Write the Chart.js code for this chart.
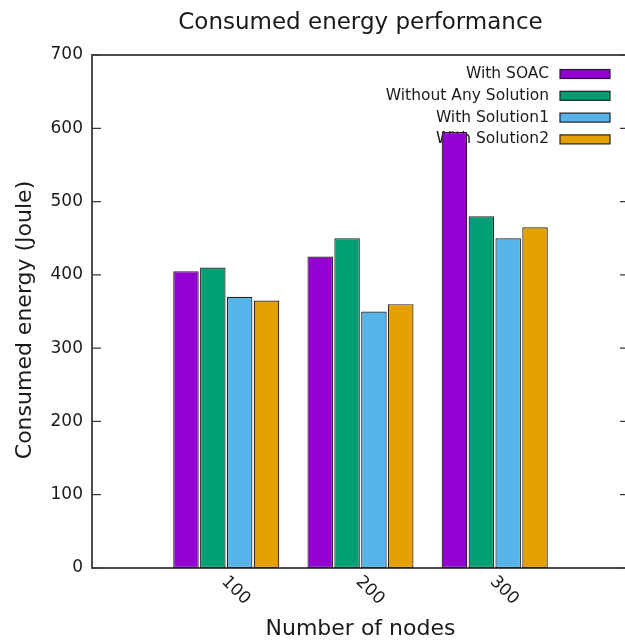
<!DOCTYPE html>
<html>
<head>
<meta charset="utf-8">
<script src="https://cdn.jsdelivr.net/npm/chart.js@4"></script>
<style>
  html, body { margin: 0; padding: 0; background: #fff; overflow: hidden; }
  #wrap { width: 640px; height: 643px; }
</style>
</head>
<body>
<div id="wrap"><canvas id="energyChart" width="640" height="643"></canvas></div>
<script>
// data
const nodeCounts = ['100', '200', '300'];
const withSoac = [405, 425, 595];
const withoutSolution = [410, 450, 480];
const withSolution1 = [370, 350, 450];
const withSolution2 = [365, 360, 465];
const seriesNames = ['With SOAC', 'Without Any Solution', 'With Solution1', 'With Solution2'];
const seriesColors = ['#9400D3', '#009E73', '#56B4E9', '#E69F00'];
const yTicks = [0, 100, 200, 300, 400, 500, 600, 700];

const FONT = '"DejaVu Sans", Verdana, sans-serif';
const INK = '#1a1a1a';

function toPoints(values) {
    return values.map((v, i) => ({ x: i, y: v }));
}

// gnuplot look: framed box, inward tics, key in the top right, rotated x labels
const gnuplotFrame = {
    id: 'gnuplotFrame',
    beforeDatasetsDraw(chart) {
        const { ctx, chartArea: a, scales: { y } } = chart;
        ctx.save();
        ctx.strokeStyle = '#3a3a3a';
        ctx.lineWidth = 1.8;
        ctx.strokeRect(a.left, a.top, a.right - a.left, a.bottom - a.top);
        ctx.lineWidth = 1.2;
        yTicks.forEach(v => {
            const py = y.getPixelForValue(v);
            ctx.beginPath();
            ctx.moveTo(a.left, py); ctx.lineTo(a.left + 9, py);
            ctx.moveTo(a.right - 9, py); ctx.lineTo(a.right, py);
            ctx.stroke();
        });

        // key
        ctx.font = '15.5px ' + FONT;
        ctx.textAlign = 'right';
        ctx.textBaseline = 'middle';
        chart.data.datasets.forEach((ds, i) => {
            const cy = a.top + 19 + i * 21.8;
            ctx.fillStyle = INK;
            ctx.fillText(ds.label, 549, cy);
            ctx.fillStyle = ds.backgroundColor;
            ctx.fillRect(560, cy - 4.5, 50, 9);
            ctx.strokeStyle = '#222';
            ctx.lineWidth = 1.2;
            ctx.strokeRect(560, cy - 4.5, 50, 9);
        });
        ctx.restore();
    },
    afterDraw(chart) {
        const { ctx, chartArea: a, scales: { x } } = chart;
        const midX = (a.left + a.right) / 2;
        ctx.save();
        ctx.fillStyle = INK;
        ctx.textAlign = 'center';
        ctx.textBaseline = 'middle';
        ctx.font = '23px ' + FONT;
        ctx.fillText('Consumed energy performance', midX, 23);

        // y title sits a little below the plot centre in the reference
        ctx.save();
        ctx.translate(25, 320);
        ctx.rotate(-Math.PI / 2);
        ctx.font = '22px ' + FONT;
        ctx.fillText('Consumed energy (Joule)', 0, 0);
        ctx.restore();

        ctx.font = '17px ' + FONT;
        ctx.textAlign = 'left';
        nodeCounts.forEach((label, i) => {
            const px = x.getPixelForValue(i);
            ctx.save();
            ctx.translate(px - 2, a.bottom + 11);
            ctx.rotate(Math.PI / 4);
            ctx.fillText(label, 0, 0);
            ctx.restore();
        });
        ctx.restore();
    }
};

const series = [withSoac, withoutSolution, withSolution1, withSolution2];

new Chart(document.getElementById('energyChart'), {
    type: 'bar',
    data: {
        datasets: series.map((values, i) => ({
            label: seriesNames[i],
            data: toPoints(values),
            backgroundColor: seriesColors[i],
            borderColor: '#222',
            borderWidth: 1.2,
            borderSkipped: false,
            categoryPercentage: 0.8,
            barPercentage: 0.95
        }))
    },
    options: {
        responsive: false,
        animation: false,
        layout: { padding: { top: 55, right: 11, left: 0, bottom: 0 } },
        plugins: {
            legend: { display: false },
            tooltip: { enabled: false }
        },
        scales: {
            x: {
                type: 'linear',
                offset: false,
                min: -1,
                max: 3,
                afterBuildTicks: scale => {
                    scale.ticks = nodeCounts.map((_, i) => ({ value: i }));
                },
                afterFit: scale => { scale.height = 75; },
                ticks: { display: false },
                grid: { display: false, offset: false },
                border: { display: false },
                title: {
                    display: true,
                    text: 'Number of nodes',
                    color: INK,
                    font: { family: FONT, size: 22 },
                    padding: { top: 0, bottom: 1 }
                }
            },
            y: {
                min: 0,
                max: 700,
                afterBuildTicks: scale => {
                    scale.ticks = yTicks.map(v => ({ value: v }));
                },
                afterFit: scale => { scale.width = 92; },
                ticks: {
                    color: INK,
                    padding: 9,
                    font: { family: FONT, size: 17 }
                },
                grid: { display: false, drawTicks: false },
                border: { display: false }
            }
        }
    },
    plugins: [gnuplotFrame]
});
</script>
</body>
</html>
